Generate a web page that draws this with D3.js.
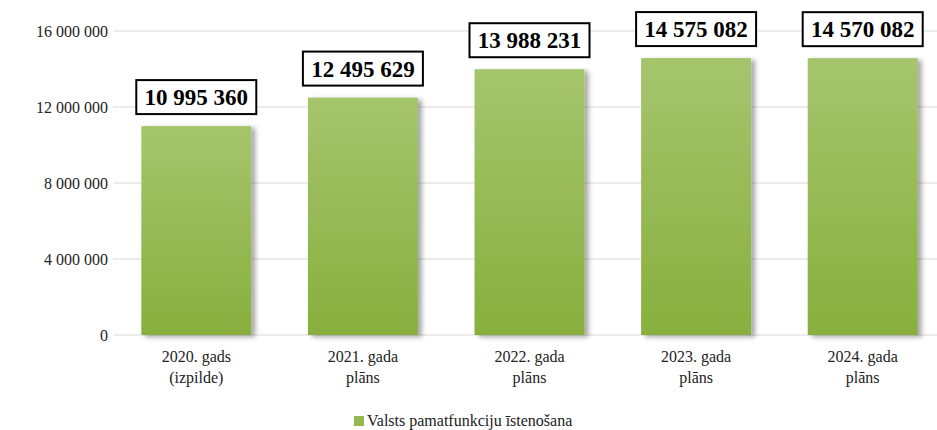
<!DOCTYPE html>
<html>
<head>
<meta charset="utf-8">
<script src="https://cdn.jsdelivr.net/npm/d3@7"></script>
<style>
  body { margin: 0; background: #fff; }
  svg, svg text { font-family: "Liberation Serif", "Times New Roman", Times, "DejaVu Serif", serif !important; }
</style>
</head>
<body>
<div id="chart"></div>
<script>
// Data
var categories = [["2020. gads", "(izpilde)"], ["2021. gada", "plāns"], ["2022. gada", "plāns"], ["2023. gada", "plāns"], ["2024. gada", "plāns"]];
var values = [10995360, 12495629, 13988231, 14575082, 14570082];
var yTicks = [0, 4000000, 8000000, 12000000, 16000000];
var seriesName = "Valsts pamatfunkciju īstenošana";

var width = 937, height = 430;
var margin = {top: 31, right: -9, bottom: 95, left: 113};
var serif = "'Liberation Serif', 'Times New Roman', Times, 'DejaVu Serif', serif";

var fmt = function(v) {
  return String(v).replace(/\B(?=(\d{3})+(?!\d))/g, " ");
};

var svg = d3.select("#chart")
  .append("svg")
    .attr("width", width)
    .attr("height", height)
    .attr("font-family", serif);

var defs = svg.append("defs");
var grad = defs.append("linearGradient")
  .attr("id", "barGrad")
  .attr("x1", 0).attr("y1", 0).attr("x2", 0).attr("y2", 1);
grad.append("stop").attr("offset", "0%").attr("stop-color", "#a5c56d");
grad.append("stop").attr("offset", "100%").attr("stop-color", "#88af3e");

var shadow = defs.append("filter")
  .attr("id", "shadow")
  .attr("x", "-10%").attr("y", "-10%").attr("width", "130%").attr("height", "130%");
shadow.append("feDropShadow")
  .attr("dx", 4).attr("dy", 2).attr("stdDeviation", 2.5)
  .attr("flood-color", "#000").attr("flood-opacity", 0.35);

var g = svg.append("g")
  .attr("transform", "translate(" + margin.left + "," + margin.top + ")");

var innerW = width - margin.left - margin.right;
var innerH = height - margin.top - margin.bottom;

var x = d3.scaleBand()
  .domain(d3.range(values.length))
  .range([0, innerW])
  .paddingInner(0.34)
  .paddingOuter(0.17);

var y = d3.scaleLinear()
  .domain([0, 16000000])
  .range([innerH, 0]);

// Gridlines
g.selectAll(".grid")
  .data(yTicks)
  .enter().append("line")
    .attr("class", "grid")
    .attr("x1", 0)
    .attr("x2", innerW)
    .attr("y1", function(d) { return y(d); })
    .attr("y2", function(d) { return y(d); })
    .style("stroke", "#d9d9d9")
    .style("stroke-width", 1.2);

// Y axis
var yAxis = g.append("g")
  .call(d3.axisLeft(y)
    .tickValues(yTicks)
    .tickFormat(fmt)
    .tickSize(0)
    .tickPadding(5));
yAxis.attr("font-family", serif);
yAxis.select(".domain").remove();
yAxis.selectAll("text")
  .style("font-size", "16px")
  .style("fill", "#222");

// Bars
g.selectAll(".bar")
  .data(values)
  .enter().append("rect")
    .attr("class", "bar")
    .attr("x", function(d, i) { return x(i); })
    .attr("y", function(d) { return y(d); })
    .attr("width", x.bandwidth())
    .attr("height", function(d) { return innerH - y(d); })
    .style("fill", "url(#barGrad)")
    .attr("filter", "url(#shadow)");

// Value labels with boxes
var labels = g.selectAll(".label")
  .data(values)
  .enter().append("g")
    .attr("class", "label")
    .attr("transform", function(d, i) {
      return "translate(" + (x(i) + x.bandwidth() / 2) + "," + (y(d) - 29) + ")";
    });

labels.append("rect")
  .attr("x", -60)
  .attr("y", -17)
  .attr("width", 120)
  .attr("height", 34)
  .style("fill", "#fff")
  .style("stroke", "#000")
  .style("stroke-width", 2);

labels.append("text")
  .attr("text-anchor", "middle")
  .attr("dy", "0.35em")
  .style("font-size", "23px")
  .style("font-weight", "bold")
  .style("fill", "#000")
  .text(function(d) { return fmt(d); });

// X labels
var xl = g.selectAll(".xlabel")
  .data(categories)
  .enter().append("text")
    .attr("class", "xlabel")
    .attr("text-anchor", "middle")
    .attr("x", function(d, i) { return x(i) + x.bandwidth() / 2; })
    .attr("y", innerH + 27)
    .style("font-size", "16px")
    .style("fill", "#222");
xl.selectAll("tspan")
  .data(function(d) { return d; })
  .enter().append("tspan")
    .attr("x", function() { return d3.select(this.parentNode).attr("x"); })
    .attr("dy", function(d, j) { return j == 0 ? 0 : 21; })
    .text(function(d) { return d; });

// Legend
var legend = svg.append("g")
  .attr("transform", "translate(354,416)");
legend.append("rect")
  .attr("width", 10)
  .attr("height", 10)
  .style("fill", "#94b84e");
legend.append("text")
  .attr("x", 13)
  .attr("y", 10)
  .style("font-size", "16px")
  .style("fill", "#222")
  .text(seriesName);
</script>
</body>
</html>
